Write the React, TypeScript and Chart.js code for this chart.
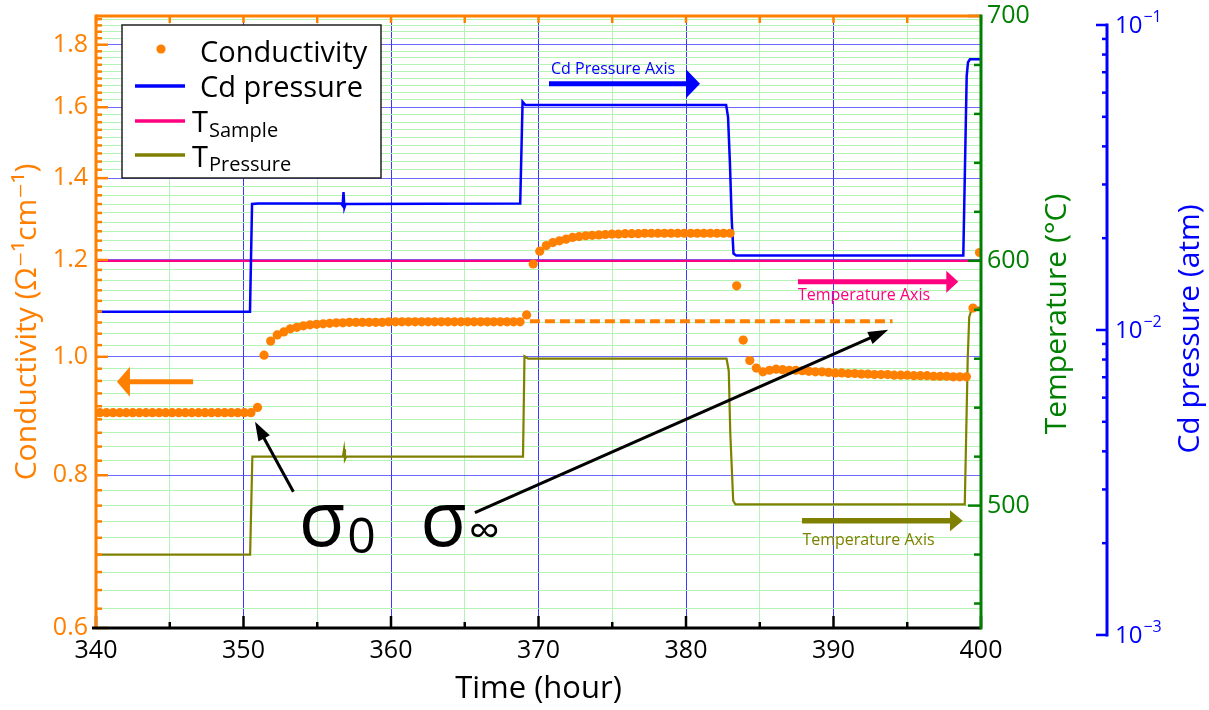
import React, { useEffect, useRef } from "react";
import { Chart, registerables } from "chart.js";

Chart.register(...registerables);

const FONT = "'Open Sans', 'DejaVu Sans', sans-serif";
const ORANGE = "#ff8000";
const BLUE = "#0000ff";
const PINK = "#ff0080";
const OLIVE = "#808000";
const GREEN = "#008000";
const GRID_MAJOR_X = "#3a3aff";
const GRID_MAJOR_Y = "rgba(70,70,255,0.8)";
const GRID_MINOR = "#b5f2b5";

// ---- Axes ----
const timeMin = 340;
const timeMax = 400;
const timeTicks = [340, 345, 350, 355, 360, 365, 370, 375, 380, 385, 390, 395, 400];
const timeLabels = ["340", "", "350", "", "360", "", "370", "", "380", "", "390", "", "400"];

const condMin = 0.6;
const condMax = 1.9;
const condMajor = [0.6, 0.8, 1.0, 1.2, 1.4, 1.6, 1.8];
const condMajorLabels = ["0.6", "0.8", "1.0", "1.2", "1.4", "1.6", "1.8"];
const condMinorCount = 8;

const tempMin = 450;
const tempMax = 700;
const tempTicks = [460, 480, 500, 520, 540, 560, 580, 600, 620, 640, 660, 680, 700];
const tempMajor = [500, 600, 700];

const pMin = 0.001054;
const pMax = 0.10703;
const pMajor = [0.001, 0.01, 0.1];
const pMajorExp = ["\u22123", "\u22122", "\u22121"];
const pMinorMult = [2, 3, 4, 5, 6, 7, 8, 9];

// ---- Data ----
// conductivity sampled every condStep hours from condStart
const condStart = 340.27;
const condStep = 0.445;
const conductivity = [
  0.900, 0.900, 0.900, 0.900, 0.900, 0.900, 0.900, 0.900, 0.900, 0.900, 0.900, 0.900,
  0.900, 0.900, 0.900, 0.900, 0.900, 0.900, 0.900, 0.900, 0.900, 0.900, 0.900, 0.900,
  0.909,
  1.003, 1.030, 1.042, 1.048, 1.054, 1.057, 1.060, 1.062, 1.063, 1.064, 1.065, 1.066, 1.066, 1.067,
  1.067, 1.067, 1.067, 1.067, 1.067, 1.068, 1.068, 1.068, 1.068, 1.068, 1.068, 1.068, 1.068,
  1.068, 1.068, 1.068, 1.068, 1.068, 1.068, 1.068, 1.068, 1.068, 1.068, 1.068, 1.068, 1.068,
  1.082,
  1.191, 1.220, 1.233, 1.240, 1.244, 1.248, 1.252, 1.254, 1.256, 1.257, 1.258, 1.259, 1.260, 1.260, 1.261,
  1.261, 1.261, 1.262, 1.262, 1.262, 1.262, 1.262, 1.262, 1.262, 1.262, 1.262, 1.262, 1.262, 1.262, 1.262, 1.262,
  1.143, 1.032, 0.993, 0.979, 0.972, 0.975, 0.977,
  0.976, 0.975, 0.975, 0.974, 0.973, 0.972, 0.972, 0.971, 0.970, 0.970, 0.969, 0.969, 0.968, 0.968, 0.967,
  0.967, 0.967, 0.966, 0.966, 0.966, 0.965, 0.965, 0.965, 0.964, 0.964, 0.964, 0.963, 0.963, 0.963,
  1.096, 1.217,
];

const sigmaInf = 1.069;
const sigmaInfFrom = 369.42;
const sigmaInfTo = 394.0;

const pressureTime = [340, 350.44, 350.58, 351.0, 356.62, 356.72, 356.78, 356.84, 356.92, 368.76, 368.92, 369.1,
  382.72, 382.85, 382.98, 383.1, 383.22, 383.4, 398.8, 399.03, 399.12, 399.25, 400];
const pressureAtm = [0.01148, 0.01148, 0.0259, 0.026, 0.026, 0.0256, 0.0283, 0.0252, 0.0259, 0.026, 0.056, 0.0547,
  0.0547, 0.05, 0.035, 0.023, 0.0178, 0.01755, 0.01755, 0.068, 0.0755, 0.0772, 0.0772];

const tSampleTime = [340, 400];
const tSampleC = [600, 600];

const tPressureTime = [340, 350.45, 350.6, 356.74, 356.82, 356.88, 356.96, 368.95, 369.05, 369.3, 382.75, 382.9,
  383.0, 383.2, 383.35, 398.9, 399.1, 399.2, 399.38, 400];
const tPressureC = [480, 480, 520, 520, 523, 519, 520, 520, 561, 560, 560, 555, 530, 502, 500.5, 500.5, 560,
  577, 580.5, 581];

// ---- derived tick lists ----
const condTickValues: number[] = [];
condMajor.forEach((m) => {
  condTickValues.push(m);
  for (let k = 1; k <= condMinorCount; k++) {
    const v = m + (0.2 * k) / (condMinorCount + 1);
    if (v < condMax) condTickValues.push(v);
  }
});
const isCondMajor = (v: number) => condMajor.some((m) => Math.abs(m - v) < 1e-6);
const condLabel = (v: number) => {
  const i = condMajor.findIndex((m) => Math.abs(m - v) < 1e-6);
  return i >= 0 ? condMajorLabels[i] : "";
};
const pTickValues: number[] = [];
pMajor.forEach((d, i) => {
  pTickValues.push(d);
  if (i < pMajor.length - 1) pMinorMult.forEach((m) => pTickValues.push(d * m));
});

// ---- annotations (in data units: hours / conductivity) ----
const annotArrows = [
  { from: [346.58, 0.954], to: [341.42, 0.954], color: ORANGE, shaft: 5, head: 13, headW: 30 },
  { from: [370.71, 1.672], to: [380.95, 1.672], color: BLUE, shaft: 5, head: 14, headW: 29 },
  { from: [387.59, 1.152], to: [398.46, 1.152], color: PINK, shaft: 5, head: 12, headW: 22 },
  { from: [387.86, 0.7344], to: [398.76, 0.7344], color: OLIVE, shaft: 5.5, head: 12.7, headW: 21 },
  { from: [353.38, 0.7756], to: [350.78, 0.885], color: "#000", shaft: 3, head: 19, headW: 13 },
  { from: [365.69, 0.7455], to: [393.71, 1.052], color: "#000", shaft: 3, head: 20, headW: 13 },
];
const annotTexts = [
  { text: "Cd Pressure Axis", at: [370.85, 1.719], color: BLUE },
  { text: "Temperature Axis", at: [387.59, 1.123], color: PINK },
  { text: "Temperature Axis", at: [387.89, 0.708], color: OLIVE },
];
const sigmaLabels = [
  { sub: "0", at: [353.95, 0.7], subSize: 50, subDrop: 7 },
  { sub: "\u221e", at: [362.19, 0.7], subSize: 44, subDrop: 0 },
];

function drawArrow(ctx: CanvasRenderingContext2D, x1: number, y1: number, x2: number, y2: number,
  color: string, shaft: number, head: number, headW: number) {
  const a = Math.atan2(y2 - y1, x2 - x1);
  const bx = x2 - head * Math.cos(a);
  const by = y2 - head * Math.sin(a);
  ctx.strokeStyle = color;
  ctx.lineWidth = shaft;
  ctx.lineCap = "butt";
  ctx.beginPath();
  ctx.moveTo(x1, y1);
  ctx.lineTo(bx + Math.cos(a), by + Math.sin(a));
  ctx.stroke();
  const nx = -Math.sin(a);
  const ny = Math.cos(a);
  ctx.fillStyle = color;
  ctx.beginPath();
  ctx.moveTo(x2, y2);
  ctx.lineTo(bx + (nx * headW) / 2, by + (ny * headW) / 2);
  ctx.lineTo(bx - (nx * headW) / 2, by - (ny * headW) / 2);
  ctx.closePath();
  ctx.fill();
}

function line(ctx: CanvasRenderingContext2D, x1: number, y1: number, x2: number, y2: number, color: string, w: number) {
  ctx.strokeStyle = color;
  ctx.lineWidth = w;
  ctx.beginPath();
  ctx.moveTo(x1, y1);
  ctx.lineTo(x2, y2);
  ctx.stroke();
}

const decorPlugin = {
  id: "decor",
  afterDraw(chart: any) {
    const { ctx, chartArea: ca, scales } = chart;
    const sx = scales.x;
    const sy = scales.y;
    const sy2 = scales.y2;
    const sy3 = scales.y3;
    ctx.save();
    ctx.lineCap = "butt";

    // tick marks
    condTickValues.forEach((v) => {
      const py = sy.getPixelForValue(v);
      line(ctx, ca.left, py, ca.left + (isCondMajor(v) ? 12 : 6), py, ORANGE, 2.5);
    });
    timeTicks.forEach((v) => {
      const px = sx.getPixelForValue(v);
      line(ctx, px, ca.bottom, px, ca.bottom - (v % 10 === 0 ? 12 : 6), "#000", 2.5);
      line(ctx, px, ca.top, px, ca.top + 7, ORANGE, 2.5);
    });
    tempTicks.forEach((v) => {
      const py = sy2.getPixelForValue(v);
      line(ctx, ca.right, py, ca.right - (tempMajor.includes(v) ? 13 : 7), py, GREEN, 2.5);
    });

    // frame
    line(ctx, ca.left, ca.top, ca.right, ca.top, ORANGE, 3);
    line(ctx, ca.left, ca.top - 1.5, ca.left, ca.bottom, ORANGE, 3);
    line(ctx, ca.left - 4, ca.bottom, ca.right, ca.bottom, "#000", 3);
    line(ctx, ca.right, ca.top - 1.5, ca.right, ca.bottom + 1.5, GREEN, 3);

    // Cd pressure axis (separate, to the right)
    const bx = ca.right + 126;
    const yTop = sy3.getPixelForValue(pMajor[pMajor.length - 1]);
    const yBot = sy3.getPixelForValue(pMajor[0]);
    line(ctx, bx, yTop - 1.5, bx, yBot + 1.5, BLUE, 3);
    pTickValues.forEach((v) => {
      const py = sy3.getPixelForValue(v);
      const maj = pMajor.some((m) => Math.abs(m - v) < 1e-12);
      line(ctx, bx, py, bx - (maj ? 11 : 5), py, BLUE, 2.5);
    });
    ctx.fillStyle = BLUE;
    ctx.textBaseline = "middle";
    ctx.textAlign = "left";
    pMajor.forEach((v, i) => {
      const py = sy3.getPixelForValue(v);
      ctx.font = `24px ${FONT}`;
      ctx.fillText("10", bx + 8, py + 1);
      const w = ctx.measureText("10").width;
      ctx.font = `16px ${FONT}`;
      ctx.fillText(pMajorExp[i], bx + 9 + w, py - 8);
    });

    // right titles
    const midY = (ca.top + ca.bottom) / 2;
    ctx.textAlign = "center";
    ctx.textBaseline = "middle";
    ctx.font = `30px ${FONT}`;
    ctx.save();
    ctx.translate(ca.right + 76, midY - 8);
    ctx.rotate(-Math.PI / 2);
    ctx.fillStyle = GREEN;
    ctx.fillText("Temperature (\u00b0C)", 0, 0);
    ctx.restore();
    ctx.save();
    ctx.translate(ca.right + 209, midY + 7);
    ctx.rotate(-Math.PI / 2);
    ctx.fillStyle = BLUE;
    ctx.fillText("Cd pressure (atm)", 0, 0);
    ctx.restore();

    // annotations
    annotArrows.forEach((a) => {
      drawArrow(ctx, sx.getPixelForValue(a.from[0]), sy.getPixelForValue(a.from[1]),
        sx.getPixelForValue(a.to[0]), sy.getPixelForValue(a.to[1]), a.color, a.shaft, a.head, a.headW);
    });
    ctx.textAlign = "left";
    ctx.textBaseline = "middle";
    ctx.font = `16px ${FONT}`;
    annotTexts.forEach((t) => {
      ctx.fillStyle = t.color;
      ctx.fillText(t.text, sx.getPixelForValue(t.at[0]), sy.getPixelForValue(t.at[1]));
    });
    ctx.textBaseline = "alphabetic";
    ctx.fillStyle = "#000";
    sigmaLabels.forEach((s) => {
      const px = sx.getPixelForValue(s.at[0]);
      const py = sy.getPixelForValue(s.at[1]);
      ctx.font = `76px ${FONT}`;
      ctx.fillText("\u03c3", px - 3, py);
      const w = ctx.measureText("\u03c3").width;
      ctx.font = `${s.subSize}px ${FONT}`;
      ctx.fillText(s.sub, px - 3 + w + 2, py + s.subDrop);
    });

    // legend
    const lx = ca.left + 26;
    const ly = ca.top + 9;
    ctx.fillStyle = "#fff";
    ctx.fillRect(lx, ly, 259, 153);
    ctx.strokeStyle = "#222";
    ctx.lineWidth = 1.5;
    ctx.strokeRect(lx, ly, 259, 153);
    ctx.fillStyle = ORANGE;
    ctx.beginPath();
    ctx.arc(lx + 39, ly + 24, 4.6, 0, Math.PI * 2);
    ctx.fill();
    line(ctx, lx + 13, ly + 61, lx + 63, ly + 61, BLUE, 3.5);
    line(ctx, lx + 13, ly + 96, lx + 63, ly + 96, PINK, 3.5);
    line(ctx, lx + 13, ly + 130, lx + 63, ly + 130, OLIVE, 3.5);
    ctx.fillStyle = "#000";
    ctx.textAlign = "left";
    ctx.textBaseline = "alphabetic";
    ctx.font = `29px ${FONT}`;
    ctx.fillText("Conductivity", lx + 78, ly + 37);
    ctx.fillText("Cd pressure", lx + 78, ly + 72);
    ctx.fillText("T", lx + 70, ly + 107);
    ctx.fillText("T", lx + 70, ly + 142);
    ctx.font = `20px ${FONT}`;
    ctx.fillText("Sample", lx + 87, ly + 112);
    ctx.fillText("Pressure", lx + 87, ly + 146);

    ctx.restore();
  },
};

export default function App() {
  const ref = useRef<HTMLCanvasElement>(null);
  useEffect(() => {
    Chart.defaults.font.family = FONT;
    const condPoints = conductivity.map((v, i) => ({ x: condStart + condStep * i, y: v }));
    const pressurePoints = pressureTime.map((t, i) => ({ x: t, y: pressureAtm[i] }));
    const tSamplePoints = tSampleTime.map((t, i) => ({ x: t, y: tSampleC[i] }));
    const tPressurePoints = tPressureTime.map((t, i) => ({ x: t, y: tPressureC[i] }));
    const chart = new Chart(ref.current as HTMLCanvasElement, {
      type: "scatter",
      data: {
        datasets: [
          {
            label: "Conductivity", data: condPoints, xAxisID: "x", yAxisID: "y",
            pointRadius: 4.6, pointBorderWidth: 0, backgroundColor: ORANGE, borderColor: ORANGE,
            showLine: false, clip: 0,
          },
          {
            label: "sigma_inf", data: [{ x: sigmaInfFrom, y: sigmaInf }, { x: sigmaInfTo, y: sigmaInf }],
            xAxisID: "x", yAxisID: "y", showLine: true, borderColor: ORANGE, borderWidth: 4,
            borderDash: [10, 5], pointRadius: 0,
          },
          {
            label: "Cd pressure", data: pressurePoints, xAxisID: "x", yAxisID: "y3", showLine: true,
            borderColor: BLUE, borderWidth: 2.5, pointRadius: 0, tension: 0,
          },
          {
            label: "T_Sample", data: tSamplePoints, xAxisID: "x", yAxisID: "y2", showLine: true,
            borderColor: PINK, borderWidth: 2.2, pointRadius: 0,
          },
          {
            label: "T_Pressure", data: tPressurePoints, xAxisID: "x", yAxisID: "y2", showLine: true,
            borderColor: OLIVE, borderWidth: 2.2, pointRadius: 0, tension: 0,
          },
        ],
      } as any,
      options: {
        responsive: false,
        animation: false,
        devicePixelRatio: 1,
        events: [],
        layout: { padding: { top: 16, right: 102, left: 0, bottom: 0 } },
        plugins: { legend: { display: false }, tooltip: { enabled: false }, title: { display: false } },
        scales: {
          x: {
            type: "linear", position: "bottom", min: timeMin, max: timeMax,
            afterBuildTicks: (s: any) => { s.ticks = timeTicks.map((v) => ({ value: v })); },
            afterFit: (s: any) => { s.height = 82; s.paddingLeft = 0; s.paddingRight = 0; },
            ticks: {
              autoSkip: false, maxRotation: 0, minRotation: 0, padding: 8, color: "#000", font: { size: 25 },
              callback: (v: any) => timeLabels[timeTicks.indexOf(Number(v))] ?? "",
            },
            grid: {
              drawTicks: false, lineWidth: 1,
              color: (c: any) => (c.tick && c.tick.value % 10 === 0 ? GRID_MAJOR_X : GRID_MINOR),
            },
            border: { display: false },
            title: { display: true, text: "Time (hour)", color: "#000", font: { size: 31 }, padding: { top: 0, bottom: 2 } },
          },
          y: {
            type: "logarithmic", position: "left", min: condMin, max: condMax,
            afterBuildTicks: (s: any) => { s.ticks = condTickValues.map((v) => ({ value: v })); },
            afterFit: (s: any) => { s.width = 96; s.paddingTop = 0; s.paddingBottom = 0; },
            ticks: {
              autoSkip: false, padding: 8, color: ORANGE, font: { size: 25 },
              callback: (v: any) => condLabel(Number(v)),
            },
            grid: {
              drawTicks: false, lineWidth: 1,
              color: (c: any) => (c.tick && isCondMajor(c.tick.value) ? GRID_MAJOR_Y : GRID_MINOR),
            },
            border: { display: false },
            title: {
              display: true, text: "Conductivity (\u03a9\u207b\u00b9cm\u207b\u00b9)", color: ORANGE,
              font: { size: 30 }, padding: { top: 9, bottom: 0 },
            },
          },
          y2: {
            type: "linear", position: "right", min: tempMin, max: tempMax, weight: 0,
            afterBuildTicks: (s: any) => { s.ticks = tempTicks.map((v) => ({ value: v })); },
            afterFit: (s: any) => { s.width = 126; s.paddingTop = 0; s.paddingBottom = 0; },
            ticks: {
              autoSkip: false, padding: 6, color: GREEN, font: { size: 25 },
              callback: (v: any) => (tempMajor.includes(Number(v)) ? String(v) : ""),
            },
            grid: { display: false, drawTicks: false },
            border: { display: false },
          },
          y3: {
            type: "logarithmic", position: "right", display: false, min: pMin, max: pMax, weight: 1,
          },
        },
      } as any,
      plugins: [decorPlugin],
    });
    return () => chart.destroy();
  }, []);
  return (
    <div style={{ position: "fixed", left: 0, top: 0, width: 1209, height: 710, background: "#fff" }}>
      <canvas ref={ref} width={1209} height={710} style={{ display: "block", width: 1209, height: 710 }} />
    </div>
  );
}
